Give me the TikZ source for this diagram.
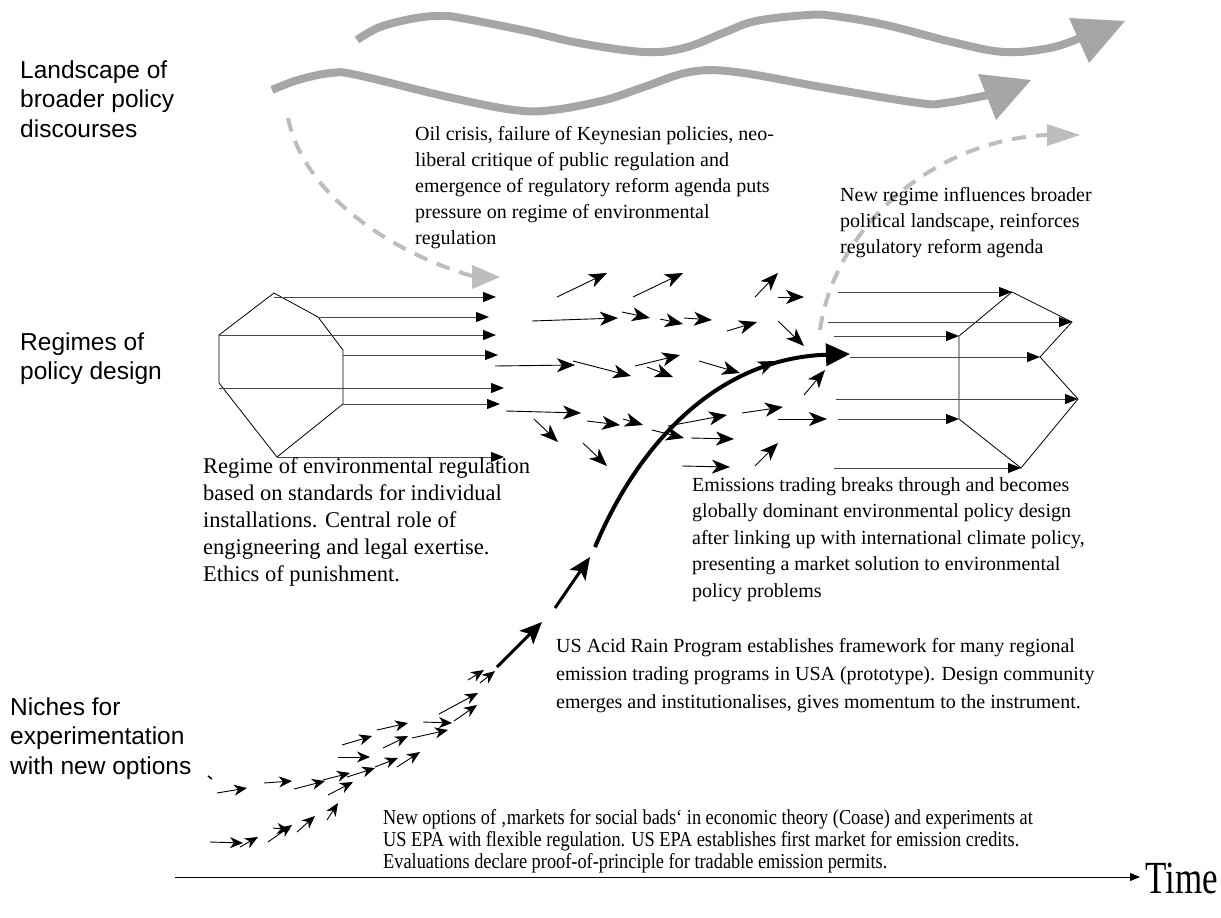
\documentclass[tikz,border=0pt]{standalone}
\usepackage{fontspec}
\setmainfont{Liberation Serif}
\newfontfamily\arial{Liberation Sans}
\newfontfamily\cond[FakeStretch=0.86]{Liberation Serif}
\newfontfamily\timefont[FakeStretch=0.76]{Liberation Serif}
\usetikzlibrary{arrows.meta}
\definecolor{lgray}{HTML}{A6A6A6}
\definecolor{dgray}{HTML}{BDBDBD}
\tikzset{
  regarr/.style={line width=1pt, draw=black!72, -{Triangle[length=13pt,width=10pt,color=black]}},
  clarr/.style={line width=0.9pt, -{Stealth[length=18pt,width=14pt,inset=5pt]}},
  nicharr/.style={line width=0.9pt, -{Stealth[length=13pt,width=11pt,inset=4pt]}},
  bigarr/.style={line width=3pt, -{Stealth[length=22pt,width=19pt,inset=5pt]}},
  shapeline/.style={line width=0.8pt, draw=black},
  wave/.style={lgray, line width=8pt, line cap=butt},
  dasharr/.style={dgray, line width=4pt, dash pattern=on 14pt off 10pt},
  lbl/.style={anchor=base west, inner sep=0pt}
}
\begin{document}
\begin{tikzpicture}[x=1pt,y=-1pt]
\useasboundingbox (0,0) rectangle (1221,918);

% ---------- landscape arrows ----------
\draw[wave] plot[smooth, tension=0.6] coordinates {(357,40) (380,27) (416,18) (442,16) (461,18) (527,31) (579,43) (644,52) (684,48) (723,33) (756,21) (808,15) (834,16) (886,25) (952,42) (1004,52) (1050,48) (1080,38)};
\fill[lgray] (1069,18) -- (1125,21) -- (1089,63) -- cycle;
\draw[wave] plot[smooth, tension=0.6] coordinates {(272,90) (298,80) (331,73) (357,75) (448,97) (514,110) (553,110) (605,100) (644,87) (690,72) (736,72) (827,88) (919,103) (945,103) (988,95)};
\fill[lgray] (978,74) -- (1031,80) -- (996,120) -- cycle;

% ---------- dashed influence arrows ----------
\draw[dasharr] (288,118) .. controls (305,200) and (400,255) .. (472,276);
\fill[dgray] (472,265) -- (500,277) -- (472,289) -- cycle;
\draw[dasharr] (820,330) .. controls (835,225) and (935,140) .. (1047,135);
\fill[dgray] (1047,124) -- (1080,135) -- (1047,146) -- cycle;

% ---------- left regime (octagon) ----------
\coordinate (O1) at (274,293);
\coordinate (O2) at (318,317);
\coordinate (O3) at (343,350);
\coordinate (O4) at (343,404);
\coordinate (O5) at (277,457);
\coordinate (O6) at (219,383);
\coordinate (O7) at (219,335);
\draw[shapeline] (O1) -- (O2) -- (O3) -- (O4) -- (O5) -- (O6) -- (O7) -- cycle;
\draw[regarr] (274,297) -- (496,297);
\draw[regarr] (O2) -- (489,317);
\draw[regarr] (O7) -- (496,335);
\draw[regarr] (343,355) -- (498,355);
\draw[regarr] (219,388) -- (504,388);
\draw[regarr] (O4) -- (500,404);
\draw[regarr] (O5) -- (504,457);

% ---------- right regime ----------
\coordinate (R1) at (959,336);
\coordinate (R2) at (1012,292);
\coordinate (R3) at (1072,322);
\coordinate (R4) at (1040,357);
\coordinate (R5) at (1078,399);
\coordinate (R6) at (1021,468);
\coordinate (R7) at (959,419);
\draw[shapeline] (R1) -- (R2) -- (R3) -- (R4) -- (R5) -- (R6) -- (R7) -- cycle;
\draw[regarr] (838,292) -- (R2);
\draw[regarr] (828,322) -- (R3);
\draw[regarr] (834,336) -- (R1);
\draw[regarr] (850,357) -- (R4);
\draw[regarr] (836,399) -- (R5);
\draw[regarr] (838,419) -- (R7);
\draw[regarr] (834,468) -- (R6);

% ---------- transition cluster ----------
\foreach \xa/\ya/\xb/\yb in {
  557/297/607/273, 633/297/683/273, 755/297/778/273, 778/297/804/297,
  532/321/618/318, 622/312/650/318, 660/319/683/324, 684/318/712/320,
  727/331/757/322, 778/321/804/346,
  495/366/575/365, 573/361/631/376, 635/366/680/355, 647/367/673/377,
  699/361/740/373, 804/395/825/370,
  506/411/581/413, 534/419/558/442, 587/421/620/425, 623/419/643/425,
  583/443/607/466, 652/430/684/438, 668/426/727/415, 691/438/734/439,
  742/413/783/407, 778/419/827/419, 682/466/730/467, 755/466/778/443}
{\draw[clarr] (\xa,\ya) -- (\xb,\yb);}

% ---------- main breakthrough trajectory ----------
\draw[line width=4pt, -{Triangle[length=24pt,width=22pt]}] (595,547) .. controls (640,440) and (720,358) .. (850,354);
\draw[clarr] (748,373) -- (776,361);
\draw[bigarr] (555,608) -- (590,557);
\draw[bigarr] (497,667) -- (542,622);

% ---------- niche experiments ----------
\draw[line width=1.5pt] (208,776) -- (212,779);
\foreach \xa/\ya/\xb/\yb in {
  217/793/247/788, 264/783/292/781, 294/789/325/781, 323/780/350/773,
  328/795/353/782, 342/745/372/736, 338/757/370/757, 347/777/375/768,
  375/767/398/758, 383/748/408/736, 377/730/408/723, 397/767/420/752,
  412/738/448/730, 423/722/452/723, 439/714/478/693, 454/721/477/705,
  468/680/484/670, 480/683/495/671,
  210/842/243/843, 240/847/258/837, 268/842/292/825, 273/828/290/830,
  297/832/315/816, 327/820/338/803}
{\draw[nicharr] (\xa,\ya) -- (\xb,\yb);}

% ---------- time axis ----------
\coordinate (t0) at (175,877);
\coordinate (t1) at (1140,877);
\draw[line width=1pt, -{Triangle[length=10pt,width=8pt]}] (t0) -- (t1);
\node[lbl] (time) at (1145,893) {\timefont\fontsize{46}{46}\selectfont Time};

% ---------- level labels ----------
\node[lbl] (land) at (20,78) {\parbox[t]{200pt}{\arial\fontsize{24.5}{29.5}\selectfont Landscape of\\broader policy\\discourses}};
\node[lbl] (reg) at (20,350) {\parbox[t]{200pt}{\arial\fontsize{24.5}{29.5}\selectfont Regimes of\\policy design}};
\node[lbl] (nich) at (10,715) {\parbox[t]{220pt}{\arial\fontsize{24.5}{29.5}\selectfont Niches for\\experimentation\\with new options}};

% ---------- annotations ----------
\node[lbl] (oil) at (415,140) {\parbox[t]{420pt}{\fontsize{20}{26}\selectfont Oil crisis, failure of Keynesian policies, neo-\\liberal critique of public regulation and\\emergence of regulatory reform agenda puts\\pressure on regime of environmental\\regulation}};
\node[lbl] (newreg) at (840,201) {\parbox[t]{380pt}{\fontsize{20}{26}\selectfont New regime influences broader\\political landscape, reinforces\\regulatory reform agenda}};
\node[lbl] (regime) at (203,473) {\parbox[t]{400pt}{\fontsize{22.5}{27}\selectfont Regime of environmental regulation\\based on standards for individual\\installations. Central role of\\engigneering and legal exertise.\\Ethics of punishment.}};
\node[lbl] (emis) at (692,491) {\parbox[t]{500pt}{\fontsize{20}{26.5}\selectfont Emissions trading breaks through and becomes\\globally dominant environmental policy design\\after linking up with international climate policy,\\presenting a market solution to environmental\\policy problems}};
\node[lbl] (acid) at (556,652) {\parbox[t]{600pt}{\fontsize{20}{28}\selectfont US Acid Rain Program establishes framework for many regional\\emission trading programs in USA (prototype). Design community\\emerges and institutionalises, gives momentum to the instrument.}};
\node[lbl] (newopt) at (383,824) {\parbox[t]{800pt}{\cond\fontsize{21.3}{22}\selectfont New options of ‚markets for social bads‘ in economic theory (Coase) and experiments at\\US EPA with flexible regulation. US EPA establishes first market for emission credits.\\Evaluations declare proof-of-principle for tradable emission permits.}};
\end{tikzpicture}
\end{document}
